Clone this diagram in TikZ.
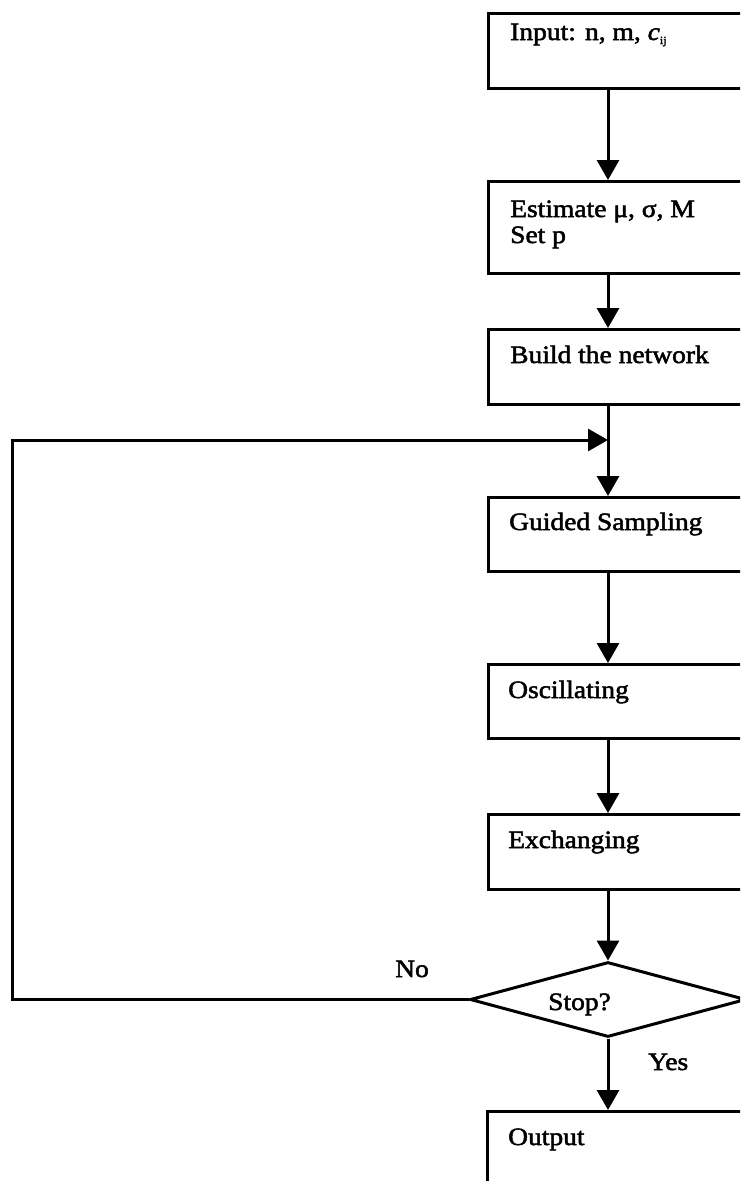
\documentclass[tikz,border=0pt]{standalone}
\usepackage{fontspec}
\setmainfont{Liberation Serif}
\newfontfamily\tf[FakeStretch=1.1,FakeBold=2]{Liberation Serif}
\usetikzlibrary{arrows.meta,shapes.geometric}
\tikzset{
  boxst/.style={draw, line width=3pt, minimum width=283pt, inner sep=0pt, anchor=north west},
  lbl/.style={anchor=base west, inner sep=0pt, font=\fontsize{25}{30}\tf},
  conn/.style={line width=3pt, -{Triangle[length=20pt,width=22pt]}}
}
\begin{document}
\begin{tikzpicture}[x=1pt,y=-1pt]
\useasboundingbox (0,0) rectangle (740,1181);
\clip (0,0) rectangle (740,1181);
% boxes
\node[boxst, minimum height=75pt] (b1) at (487,12) {};
\node[boxst, minimum height=92pt] (b2) at (487,180) {};
\node[boxst, minimum height=75pt] (b3) at (487,328) {};
\node[boxst, minimum height=74pt] (b4) at (487,496) {};
\node[boxst, minimum height=74pt] (b5) at (487,663) {};
\node[boxst, minimum height=75pt] (b6) at (487,813) {};
\node[draw, diamond, line width=3pt, minimum width=276pt, minimum height=75pt, inner sep=0pt] (stop) at (608,999.5) {};
\node[boxst, minimum height=120pt] (b7) at (486,1110) {};
% texts
\node[lbl] (t1) at (510,40) {Input: n, m, {\itshape c}\raisebox{-4pt}{\fontsize{11}{11}\selectfont ij}};
\node[lbl] (t2) at (510,217) {Estimate μ, σ, M};
\node[lbl] (t2b) at (510,243) {Set p};
\node[lbl] (t3) at (510,363) {Build the network};
\node[lbl] (t4) at (509,530) {Guided Sampling};
\node[lbl] (t5) at (508,698) {Oscillating};
\node[lbl] (t6) at (508,848) {Exchanging};
\node[lbl] (t7) at (508,1145) {Output};
\node[lbl] (ts) at (548,1010) {Stop?};
\node[lbl] (tno) at (395,977) {No};
\node[lbl] (tyes) at (648,1070) {Yes};
% helper coordinates
\coordinate (cx) at (608,0);
\coordinate (fbx) at (12,0);
\coordinate (join) at (608,440);
% connectors
\draw[conn] (b1.south -| cx) -- (b2.north -| cx);
\draw[conn] (b2.south -| cx) -- (b3.north -| cx);
\draw[conn] (b3.south -| cx) -- (b4.north -| cx);
\draw[conn] (b4.south -| cx) -- (b5.north -| cx);
\draw[conn] (b5.south -| cx) -- (b6.north -| cx);
\draw[conn] (b6.south -| cx) -- (stop.north);
\draw[conn] (stop.south) -- (b7.north -| cx);
\draw[conn] (stop.west) -- (stop.west -| fbx) -- (join -| fbx) -- (join);
\end{tikzpicture}
\end{document}
